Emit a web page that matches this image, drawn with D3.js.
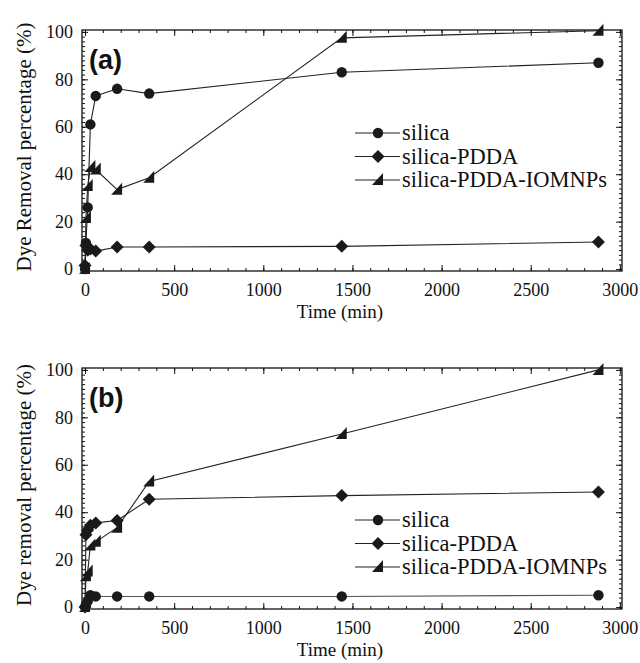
<!DOCTYPE html>
<html>
<head>
<meta charset="utf-8">
<script src="https://cdn.jsdelivr.net/npm/d3@7"></script>
<style>
  body { margin: 0; background: #fff; }
  svg { display: block; }
  text { font-family: "Times New Roman", "Liberation Serif", "DejaVu Serif", serif; fill: #111; }
  .tick text { font-size: 18px; }
  .panel-label { font-family: "Liberation Sans", Arial, sans-serif; font-weight: bold; font-size: 27px; }
</style>
</head>
<body>
<div id="chart"></div>
<script>
// sampling times (min)
const times = [0, 5, 15, 30, 60, 180, 360, 1440, 2880]
const seriesNames = ["silica", "silica-PDDA", "silica-PDDA-IOMNPs"]
const xTicks = [0, 500, 1000, 1500, 2000, 2500, 3000]
const yTicks = [0, 20, 40, 60, 80, 100]

// panel (a)
const silicaA = [0, 11, 26, 61, 73, 76, 74, 83, 87]
const pddaA = [1.5, 10, 8, 8.5, 7.6, 9.3, 9.3, 9.6, 11.4]
const iomnpA = [0, 21.5, 35, 43, 42, 33.5, 38.5, 97.5, 100.5]

// panel (b)
const silicaB = [0, 1, 2.5, 5, 4.5, 4.5, 4.5, 4.5, 5]
const pddaB = [0, 30.5, 32.5, 34.5, 35.5, 36.5, 45.5, 47, 48.5]
const iomnpB = [0, 13, 15, 26, 27.5, 33.5, 53, 73, 100]

const W = 640, H = 663
const svg = d3.select("#chart").append("svg").attr("width", W).attr("height", H)

const diamond = {
    draw: function(ctx, size){
        var r = 6.5
        ctx.moveTo(0, -r); ctx.lineTo(r, 0); ctx.lineTo(0, r); ctx.lineTo(-r, 0); ctx.closePath()
    }
}
const rightTri = {
    draw: function(ctx, size){
        ctx.moveTo(-6, 5); ctx.lineTo(5, 5); ctx.lineTo(5, -7); ctx.closePath()
    }
}
const symbols = [d3.symbol().type(d3.symbolCircle).size(85), d3.symbol().type(diamond), d3.symbol().type(rightTri)]

function drawPanel(top, label, yTitle, data){
    var x = d3.scaleLinear().domain([-17, 3012]).range([82, 622])
    var y = d3.scaleLinear().domain([-0.8, 100.8]).range([top + 241, top])
    var g = svg.append("g")
    var fmt = d3.format("d")

    // minor ticks
    var xMinor = d3.range(0, 3001, 100), yMinor = d3.range(0, 101, 2)
    g.append("g").attr("transform", "translate(0," + y.range()[0] + ")")
        .call(d3.axisBottom(x).tickValues(xMinor).tickSize(-3).tickFormat(""))
    g.append("g").attr("transform", "translate(0," + top + ")")
        .call(d3.axisTop(x).tickValues(xMinor).tickSize(-3).tickFormat(""))
    g.append("g").attr("transform", "translate(82,0)")
        .call(d3.axisLeft(y).tickValues(yMinor).tickSize(-3).tickFormat(""))
    g.append("g").attr("transform", "translate(622,0)")
        .call(d3.axisRight(y).tickValues(yMinor).tickSize(-3).tickFormat(""))

    // major ticks with labels
    g.append("g").attr("transform", "translate(0," + y.range()[0] + ")")
        .call(d3.axisBottom(x).tickValues(xTicks).tickSize(-6).tickPadding(12).tickFormat(fmt))
    g.append("g").attr("transform", "translate(0," + top + ")")
        .call(d3.axisTop(x).tickValues(xTicks).tickSize(-6).tickFormat(""))
    g.append("g").attr("transform", "translate(82,0)")
        .call(d3.axisLeft(y).tickValues(yTicks).tickSize(-6).tickPadding(9).tickFormat(fmt))
    g.append("g").attr("transform", "translate(622,0)")
        .call(d3.axisRight(y).tickValues(yTicks).tickSize(-6).tickFormat(""))

    g.selectAll(".domain").remove()
    g.selectAll(".tick line").attr("stroke", "#111")
    g.selectAll("g").attr("font-family", null).attr("font-size", null)

    g.append("rect").attr("x", 82).attr("y", top).attr("width", 540).attr("height", 241)
        .attr("fill", "none").attr("stroke", "#111").attr("stroke-width", 1.3)

    var line = d3.line().x((d, i) => x(times[i])).y(d => y(d))
    data.forEach(function(vals, k){
        g.append("path").attr("d", line(vals)).attr("fill", "none")
            .attr("stroke", k == 0 && label == "(b)" ? "#555" : "#222").attr("stroke-width", 1.1)
    })
    data.forEach(function(vals, k){
        g.selectAll(null).data(vals).enter().append("path")
            .attr("d", symbols[k])
            .attr("transform", (d, i) => "translate(" + x(times[i]) + "," + y(d) + ")")
            .attr("fill", "#1a1a1a")
    })

    g.append("text").attr("class", "panel-label").attr("x", 89).attr("y", top + 39).text(label)

    g.append("text").attr("transform", "translate(31," + (top + 117) + ") rotate(-90)")
        .attr("text-anchor", "middle").text(yTitle).style("font-size", "21px")

    g.append("text").attr("x", 340).attr("y", top + 288).attr("text-anchor", "middle").text("Time (min)")
        .style("font-size", "19px")

    // legend
    var ly = label == "(a)" ? top + 103 : top + 152
    seriesNames.forEach(function(name, k){
        var yy = ly + k * 23.5
        g.append("line").attr("x1", 355).attr("x2", 400).attr("y1", yy).attr("y2", yy)
            .attr("stroke", "#222").attr("stroke-width", 1.1)
        g.append("path").attr("d", symbols[k]).attr("transform", "translate(378," + yy + ")").attr("fill", "#1a1a1a")
        g.append("text").attr("x", 402).attr("y", yy + 7).text(name).style("font-size", "22.5px")
    })
}

drawPanel(30, "(a)", "Dye Removal percentage (%)", [silicaA, pddaA, iomnpA])
drawPanel(368, "(b)", "Dye removal percentage (%)", [silicaB, pddaB, iomnpB])
</script>
</body>
</html>
